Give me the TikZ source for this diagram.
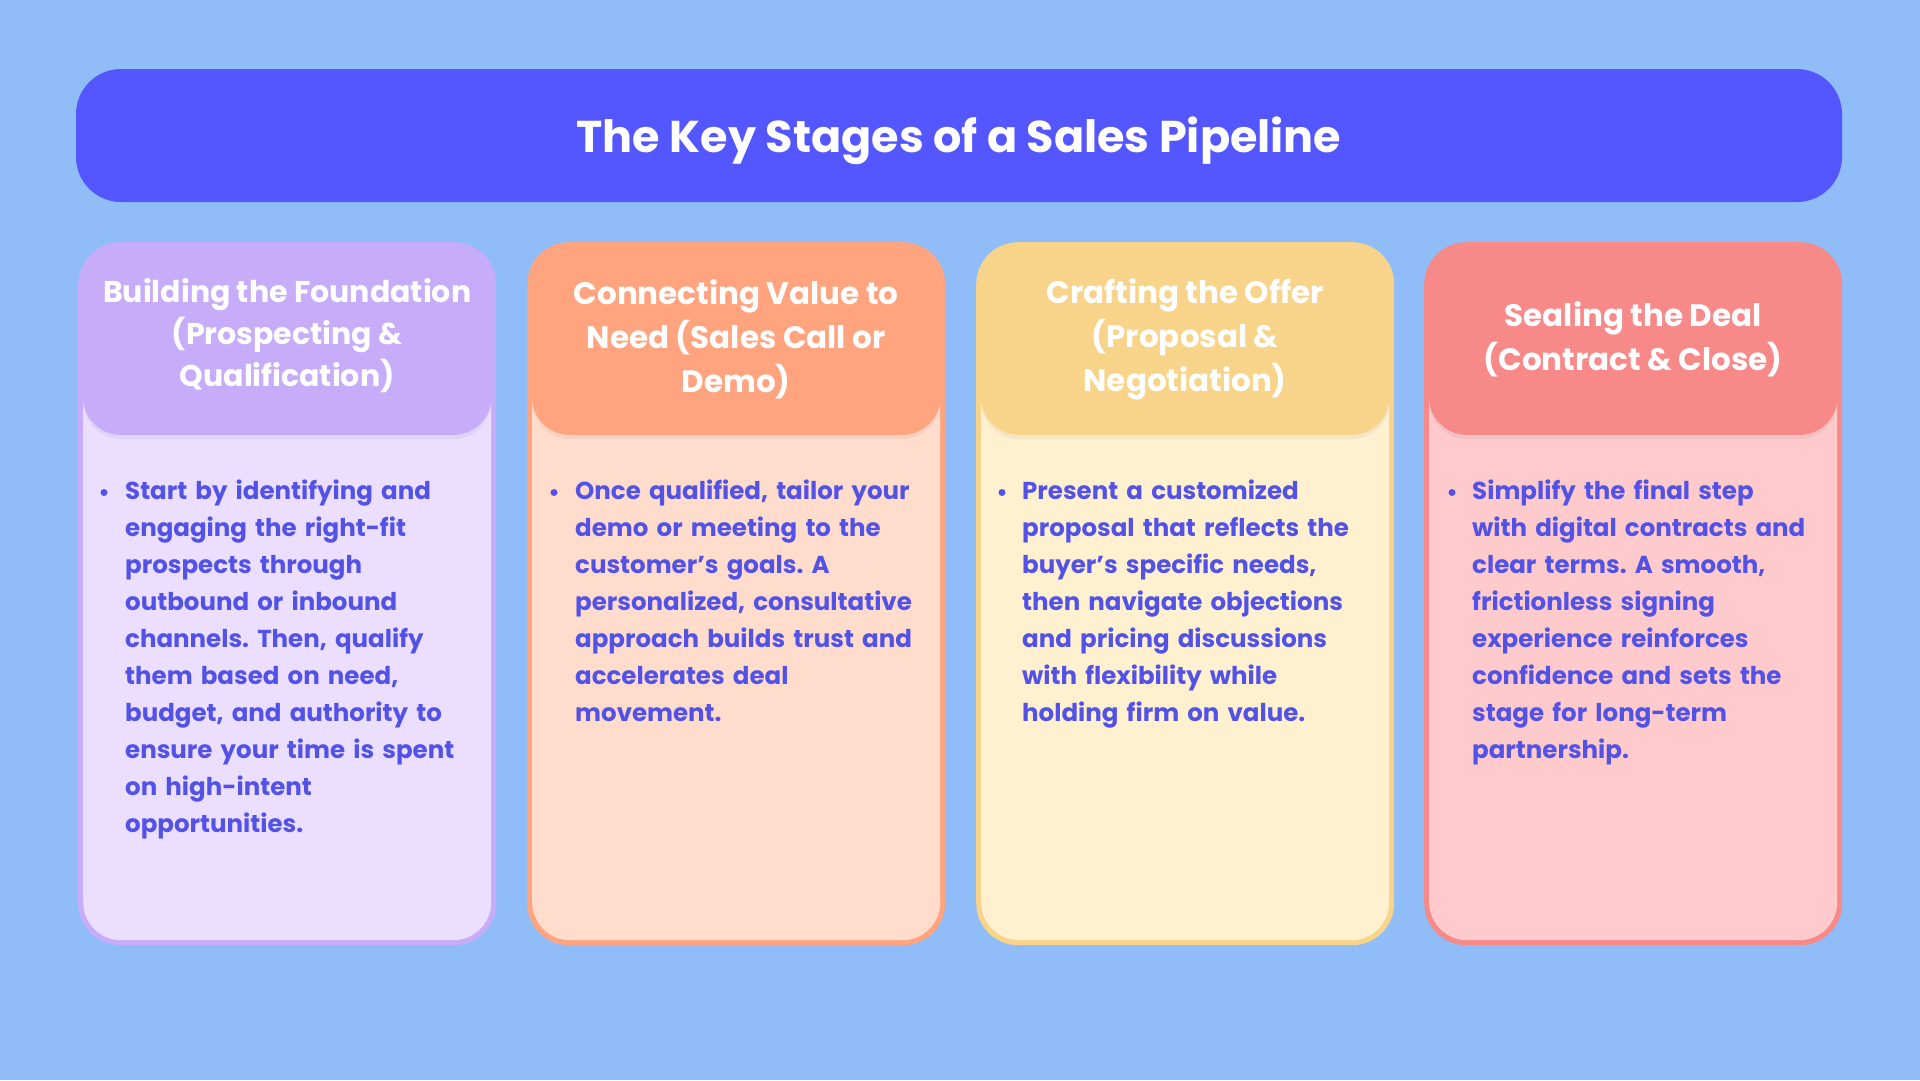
\documentclass[tikz,border=0pt]{standalone}
\usepackage{fontspec}
\setmainfont{Poppins}
\frenchspacing
\usetikzlibrary{calc}
\definecolor{bg}{HTML}{90BDF8}
\definecolor{barc}{HTML}{5457FF}
\definecolor{txtc}{HTML}{5252E6}
\definecolor{hA}{HTML}{C6ACF9}\definecolor{bA}{HTML}{EBDEFF}
\definecolor{hB}{HTML}{FFA47F}\definecolor{bB}{HTML}{FFDCCB}
\definecolor{hC}{HTML}{F8D48B}\definecolor{bC}{HTML}{FFF0D0}
\definecolor{hD}{HTML}{F78989}\definecolor{bD}{HTML}{FFCACB}
\tikzset{
  titlebar/.style={fill=barc, rounded corners=45pt, minimum width=1766pt, minimum height=133pt, inner sep=0pt},
  titletext/.style={text=white, font=\fontsize{44.5}{52}\selectfont\bfseries, inner sep=0pt},
  cardbox/.style={rounded corners=42pt, minimum width=418pt, minimum height=703pt, inner sep=0pt, anchor=north west},
  cardbody/.style={rounded corners=38pt, minimum width=408pt, minimum height=693pt, inner sep=0pt},
  cardhead/.style={rounded corners=38pt, minimum width=408.6pt, minimum height=188pt, inner sep=0pt, anchor=north},
  headshadow/.style={rounded corners=38pt, minimum width=408pt, minimum height=188pt, inner sep=0pt, anchor=north, fill=black, opacity=0.045},
  headtext/.style={text=white, align=center, font=\fontsize{31}{44}\selectfont\bfseries, inner sep=0pt},
  headtextA/.style={text=white, align=center, font=\fontsize{30}{42}\selectfont\bfseries, inner sep=0pt},
  bodytext/.style={text=txtc, align=left, text width=410pt, font=\fontsize{24.5}{37}\selectfont\bfseries, inner sep=0pt, anchor=base west},
  dot/.style={circle, fill=txtc, minimum size=7pt, inner sep=0pt},
}
\begin{document}
\begin{tikzpicture}[x=1pt,y=-1pt]
\path[use as bounding box, fill=bg] (0,0) rectangle (1920,1080);
% title
\node[titlebar] (bar) at (959,135.5) {};
\node[titletext, yshift=-5pt] (title) at (bar.center) {The Key Stages of a Sales Pipeline};
% card 1
\node[cardbox, fill=hA] (card1) at (78,242) {};
\node[cardbody, fill=bA] (body1) at (card1.center) {};
\node[headshadow, yshift=-9pt] (hs1) at (card1.north) {};
\node[cardhead, fill=hA, yshift=-4.7pt] (head1) at (card1.north) {};
\node[headtextA, yshift=5pt] (ht1) at (head1.center) {Building the Foundation\\(Prospecting \&\\Qualification)};
\node[dot] (d1) at (104,492.5) {};
\node[bodytext] (bt1) at (125,499) {Start by identifying and\\engaging the right-fit\\prospects through\\outbound or inbound\\channels. Then, qualify\\them based on need,\\budget, and authority to\\ensure your time is spent\\on high-intent\\opportunities.};
% card 2
\node[cardbox, fill=hB] (card2) at (527,242) {};
\node[cardbody, fill=bB] (body2) at (card2.center) {};
\node[headshadow, yshift=-9pt] (hs2) at (card2.north) {};
\node[cardhead, fill=hB, yshift=-4.7pt] (head2) at (card2.north) {};
\node[headtext, yshift=2pt] (ht2) at (head2.center) {Connecting Value to\\Need (Sales Call or\\Demo)};
\node[dot] (d2) at (554,492.5) {};
\node[bodytext] (bt2) at (575,499) {Once qualified, tailor your\\demo or meeting to the\\customer’s goals. A\\personalized, consultative\\approach builds trust and\\accelerates deal\\movement.};
% card 3
\node[cardbox, fill=hC] (card3) at (976,242) {};
\node[cardbody, fill=bC] (body3) at (card3.center) {};
\node[headshadow, yshift=-9pt] (hs3) at (card3.north) {};
\node[cardhead, fill=hC, yshift=-4.7pt] (head3) at (card3.north) {};
\node[headtext, yshift=2pt] (ht3) at (head3.center) {Crafting the Offer\\(Proposal \&\\Negotiation)};
\node[dot] (d3) at (1002,492.5) {};
\node[bodytext] (bt3) at (1022,499) {Present a customized\\proposal that reflects the\\buyer’s specific needs,\\then navigate objections\\and pricing discussions\\with flexibility while\\holding firm on value.};
% card 4
\node[cardbox, fill=hD] (card4) at (1424,242) {};
\node[cardbody, fill=bD] (body4) at (card4.center) {};
\node[headshadow, yshift=-9pt] (hs4) at (card4.north) {};
\node[cardhead, fill=hD, yshift=-4.7pt] (head4) at (card4.north) {};
\node[headtext, yshift=2pt] (ht4) at (head4.center) {Sealing the Deal\\(Contract \& Close)};
\node[dot] (d4) at (1452,492.5) {};
\node[bodytext] (bt4) at (1472,499) {Simplify the final step\\with digital contracts and\\clear terms. A smooth,\\frictionless signing\\experience reinforces\\confidence and sets the\\stage for long-term\\partnership.};
\end{tikzpicture}
\end{document}
